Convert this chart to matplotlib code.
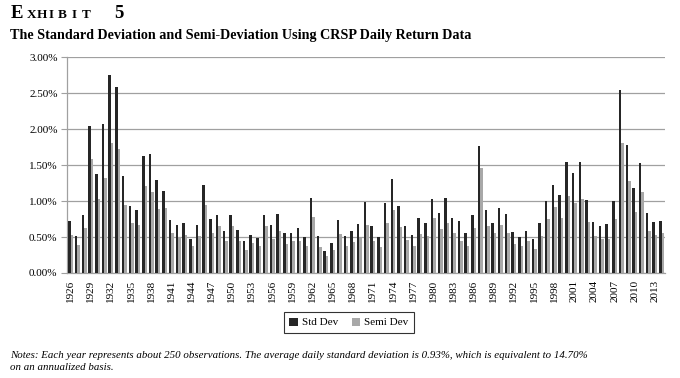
import matplotlib
matplotlib.use("Agg")
import matplotlib.pyplot as plt
import numpy as np
from matplotlib.patches import Patch

years = list(range(1926, 2015))
std_dev = [0.72, 0.52, 0.81, 2.05, 1.37, 2.07, 2.76, 2.59, 1.35, 0.93,
           0.88, 1.63, 1.65, 1.29, 1.14, 0.74, 0.67, 0.69, 0.47, 0.67,
           1.23, 0.75, 0.81, 0.58, 0.81, 0.60, 0.44, 0.53, 0.49, 0.80,
           0.67, 0.82, 0.55, 0.56, 0.63, 0.50, 1.05, 0.52, 0.31, 0.42,
           0.74, 0.52, 0.59, 0.68, 0.99, 0.66, 0.50, 0.97, 1.31, 0.93,
           0.66, 0.53, 0.76, 0.69, 1.03, 0.83, 1.05, 0.76, 0.72, 0.56,
           0.80, 1.76, 0.88, 0.69, 0.91, 0.82, 0.57, 0.50, 0.58, 0.47,
           0.69, 1.00, 1.23, 1.08, 1.54, 1.39, 1.55, 1.01, 0.71, 0.66,
           0.68, 1.00, 2.55, 1.78, 1.18, 1.53, 0.83, 0.71, 0.73]
semi_dev = [0.53, 0.39, 0.62, 1.59, 1.03, 1.32, 1.81, 1.73, 0.95, 0.69,
            0.67, 1.21, 1.13, 0.89, 0.91, 0.55, 0.50, 0.53, 0.37, 0.52,
            0.94, 0.56, 0.66, 0.44, 0.65, 0.44, 0.32, 0.42, 0.37, 0.66,
            0.47, 0.58, 0.41, 0.45, 0.45, 0.37, 0.78, 0.36, 0.24, 0.32,
            0.54, 0.38, 0.43, 0.48, 0.67, 0.45, 0.36, 0.69, 0.87, 0.64,
            0.46, 0.38, 0.54, 0.52, 0.76, 0.61, 0.69, 0.56, 0.45, 0.38,
            0.62, 1.46, 0.66, 0.55, 0.67, 0.56, 0.41, 0.38, 0.44, 0.34,
            0.51, 0.75, 0.92, 0.76, 1.07, 0.98, 1.03, 0.71, 0.51, 0.47,
            0.47, 0.75, 1.81, 1.28, 0.85, 1.13, 0.59, 0.53, 0.55]
y_ticks = [0.0, 0.5, 1.0, 1.5, 2.0, 2.5, 3.0]
series_names = ["Std Dev", "Semi Dev"]

SERIF = ["Liberation Serif", "DejaVu Serif"]
plt.rcParams['font.family'] = SERIF

C_STD = "#262626"
C_SEMI = "#a8a8a8"
GRID = "#a0a0a0"

fig = plt.figure(figsize=(6.8, 3.78), dpi=100)
ax = fig.add_axes([67.3/680, 1-273/378, (665-67.3)/680, (273-57.3)/378])

x = np.arange(len(years))
w = 0.37
ax.bar(x - w/2, std_dev, width=w, color=C_STD, zorder=3, label=series_names[0])
ax.bar(x + w/2, semi_dev, width=w, color=C_SEMI, zorder=3, label=series_names[1])

ax.set_xlim(-0.5, len(years) - 0.5)
ax.set_ylim(0, 3.0)
ax.set_yticks(y_ticks)
ax.set_yticklabels([f"{v:.2f}%" for v in y_ticks], fontsize=8)
ax.yaxis.grid(True, color=GRID, linewidth=0.9, zorder=0)
ax.set_axisbelow(True)

tick_idx = [i for i, yr in enumerate(years) if (yr - 1926) % 3 == 0]
ax.set_xticks(tick_idx)
ax.set_xticklabels([str(years[i]) for i in tick_idx], rotation=90, fontsize=8)
ax.tick_params(axis='x', length=0, pad=5)
ax.tick_params(axis='y', length=4, color=GRID, pad=3)

for s in ["top", "right"]:
    ax.spines[s].set_visible(False)
for s in ["left", "bottom"]:
    ax.spines[s].set_color(GRID)
    ax.spines[s].set_linewidth(0.9)

# Title: small caps "EXHIBIT 5"
base = 1 - 17.5/378
fig.text(10.5/680, base, "E", fontsize=13.5, fontweight="bold", family=SERIF, va="baseline")
for ch, px in zip("XHIBIT", [26.5, 37, 48.8, 57.8, 71.8, 81.5]):
    fig.text(px/680, base, ch, fontsize=9.5, fontweight="bold", family=SERIF, va="baseline")
fig.text(114.5/680, base, "5", fontsize=13.5, fontweight="bold", family=SERIF, va="baseline")

fig.text(10/680, 1-38.5/378, "The Standard Deviation and Semi-Deviation Using CRSP Daily Return Data",
         fontsize=10.2, fontweight="bold", family=SERIF, va="baseline")

handles = [Patch(facecolor=C_STD, label=series_names[0]),
           Patch(facecolor=C_SEMI, label=series_names[1])]
leg = fig.legend(handles=handles, loc="center", bbox_to_anchor=(349/680, 1-322.5/378),
                 ncol=2, frameon=True, fancybox=False, edgecolor="black",
                 handlelength=0.75, handleheight=0.75, handletextpad=0.4, columnspacing=1.2,
                 borderpad=0.5, prop={"family": SERIF, "size": 8})
leg.get_frame().set_linewidth(0.8)

fig.text(10/680, 1-358/378,
         "Notes: Each year represents about 250 observations. The average daily standard deviation is 0.93%, which is equivalent to 14.70%",
         fontsize=7.85, style="italic", family=SERIF, va="baseline")
fig.text(10/680, 1-370/378, "on an annualized basis.",
         fontsize=7.85, style="italic", family=SERIF, va="baseline")

fig.savefig("out.png", dpi=100)
